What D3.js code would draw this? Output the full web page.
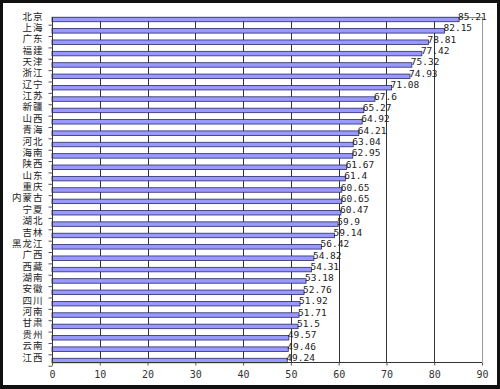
<!DOCTYPE html>
<html><head><meta charset="utf-8">
<script src="https://cdn.jsdelivr.net/npm/d3@7"></script>
<style>body{margin:0;background:#fff}svg{display:block}</style>
</head><body>
<script>
const provinces = ["北京","上海","广东","福建","天津","浙江","辽宁","江苏","新疆","山西","青海","河北","海南","陕西","山东","重庆","内蒙古","宁夏","湖北","吉林","黑龙江","广西","西藏","湖南","安徽","四川","河南","甘肃","贵州","云南","江西"];
const values = [85.21,82.15,78.81,77.42,75.32,74.93,71.08,67.6,65.27,64.92,64.21,63.04,62.95,61.67,61.4,60.65,60.65,60.47,59.9,59.14,56.42,54.82,54.31,53.18,52.76,51.92,51.71,51.5,49.57,49.46,49.24];
const valueLabels = ["85.21","82.15","78.81","77.42","75.32","74.93","71.08","67.6","65.27","64.92","64.21","63.04","62.95","61.67","61.4","60.65","60.65","60.47","59.9","59.14","56.42","54.82","54.31","53.18","52.76","51.92","51.71","51.5","49.57","49.46","49.24"];
const xTicks = [0,10,20,30,40,50,60,70,80,90];

const W = 500, H = 389;
const plotL = 52, plotR = 482, plotT = 17, plotB = 362;
const svg = d3.select("body").append("svg").attr("width", W).attr("height", H);

// frame
svg.append("rect").attr("x",0).attr("y",0).attr("width",W).attr("height",H).attr("fill","#111");
svg.append("rect").attr("x",3).attr("y",3).attr("width",W-6).attr("height",H-7).attr("fill","#fff");

const x = d3.scaleLinear().domain([0,90]).range([plotL, plotR]);
const y = d3.scaleBand().domain(provinces).range([13.8, 366.2]);

// top border of plot
svg.append("line").attr("x1",plotL).attr("x2",plotR).attr("y1",plotT+0.5).attr("y2",plotT+0.5)
  .attr("stroke","#888").attr("stroke-width",1);

// gridlines
svg.append("g").selectAll("line").data(xTicks.filter(t=>t>0)).join("line")
  .attr("x1", d=>Math.round(x(d))+0.5).attr("x2", d=>Math.round(x(d))+0.5)
  .attr("y1", plotT).attr("y2", plotB)
  .attr("stroke", d=> d===90 ? "#999" : "#333").attr("stroke-width",1);

// bars
const bh = 4.5;
svg.append("g").selectAll("rect").data(provinces).join("rect")
  .attr("x", x(0)).attr("y", (d)=> y(d)+y.bandwidth()/2 - bh/2)
  .attr("width", (d,i)=> x(values[i]) - x(0)).attr("height", bh)
  .attr("fill","#9999ff").attr("stroke","#2a2a6a").attr("stroke-width",0.8);

// value labels
svg.append("g").selectAll("text").data(provinces).join("text")
  .attr("x", (d,i)=> x(values[i]) - 1).attr("y", d=> y(d)+y.bandwidth()/2 - 3)
  .attr("dominant-baseline","central")
  .attr("font-family","'DejaVu Sans Mono', monospace").attr("font-size","9.5px").attr("fill","#222")
  .text((d,i)=> valueLabels[i]);

// y axis
const yAxis = d3.axisLeft(y).tickSize(0).tickPadding(9);
const gy = svg.append("g").attr("transform",`translate(${plotL+0.5},0)`).call(yAxis);
gy.select(".domain").attr("d", `M0,${plotT}V${plotB}`).attr("stroke","#333");
gy.selectAll("text").attr("font-family","'Noto Sans CJK SC', sans-serif").attr("font-size","9.5px")
  .attr("letter-spacing","1px")
  .attr("fill","#222").attr("dy","0.32em").attr("y",-3);
// small category ticks
gy.selectAll(".tick").append("line").attr("x1",-4).attr("x2",0)
  .attr("y1", y.bandwidth()/2).attr("y2", y.bandwidth()/2).attr("stroke","#555");

// x axis
const xAxis = d3.axisBottom(x).tickValues(xTicks).tickSize(3).tickPadding(5);
const gx = svg.append("g").attr("transform",`translate(0,${plotB+0.5})`).call(xAxis);
gx.select(".domain").attr("d", `M${plotL},0H${plotR}`).attr("stroke","#333");
gx.selectAll(".tick line").attr("stroke","#555");
gx.selectAll("text").attr("font-family","'DejaVu Sans Mono', monospace").attr("font-size","10px").attr("fill","#333");
</script>
</body></html>
